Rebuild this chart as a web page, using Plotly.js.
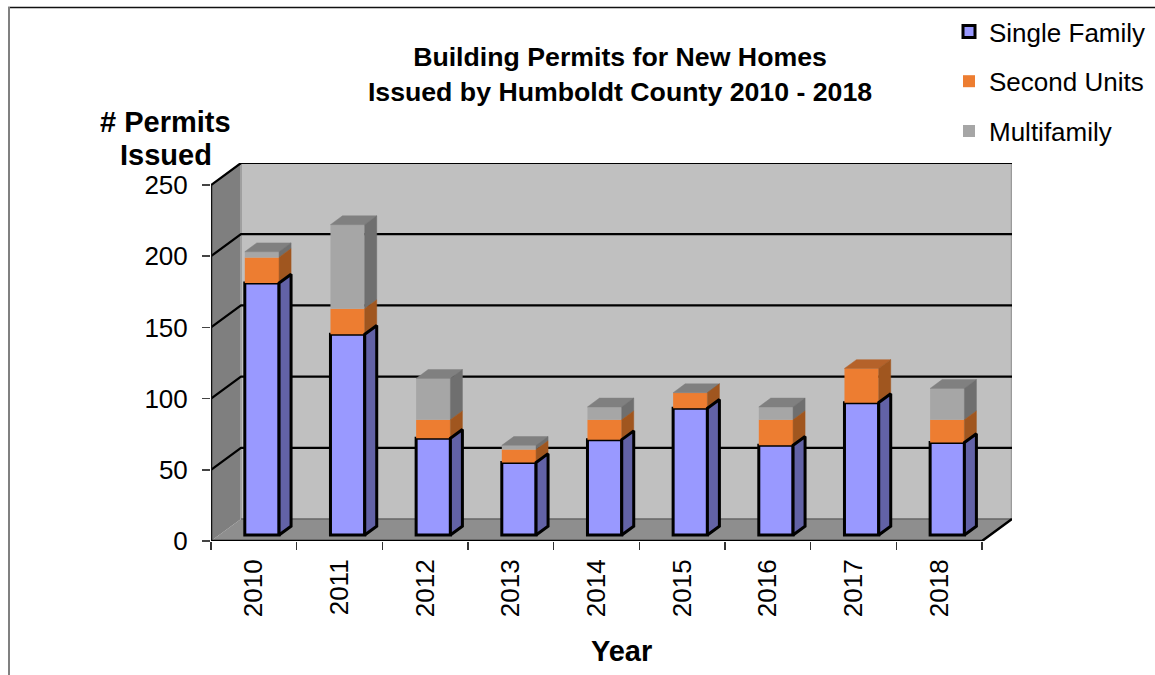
<!DOCTYPE html>
<html>
<head>
<meta charset="utf-8">
<script src="https://cdn.plot.ly/plotly-3.0.1.min.js"></script>
<style>html,body{margin:0;padding:0;background:#fff}#chart{width:1155px;height:675px}</style>
</head>
<body>
<div id="chart"></div>
<script>
const years = ['2010','2011','2012','2013','2014','2015','2016','2017','2018'];
const singleFamily = [177,141,68,51,67,89,63,93,65];
const secondUnits  = [18,18,13,9,14,11,18,24,16];
const multifamily  = [4,59,29,3,9,0,9,null,22];
const yTicks = [0,50,100,150,200,250];

const W=1155,H=675, L=211, R=1012, B=541, T=163;
const catPx=(982-211)/9, valPx=(541-185)/250;
const depthX=30/catPx, depthY=22/valPx;
const xMax=-0.5+(R-L)/catPx, yMax=(B-T)/valPx;
const barW=0.40, barD0=0.27, barD1=0.67;
const P=(c,v,d)=>[c+d*depthX, v+d*depthY];
const path=pts=>'M'+pts.map(p=>p[0]+','+p[1]).join('L')+'Z';
const pxX=p=>(p-L)/(R-L), pxY=p=>(B-p)/(B-T);
const idx=years.map((_,i)=>i);

const series=[
 {name:'Single Family',vals:singleFamily,front:'#9999ff',side:'#6262a6',top:'#7a7ac0',lw:3},
 {name:'Second Units',vals:secondUnits,front:'#ed7d31',side:'#a0561f',top:'#b5622a',lw:0},
 {name:'Multifamily',vals:multifamily,front:'#a6a6a6',side:'#6f6f6f',top:'#808080',lw:0}
];
let cum=years.map(()=>0);
series.forEach(s=>{s.base=cum.slice(); cum=cum.map((c,i)=>c+(s.vals[i]||0));});

const shiftV=barD0*depthY, shiftC=barD0*depthX;
const traces=[];
series.forEach(s=>{
  traces.push({type:'bar',name:s.name,x:idx.map(i=>i+shiftC),y:s.vals.map(v=>v||0),
    base:s.base.map(b=>b+shiftV),width:barW,legendgroup:s.name,
    marker:{color:s.front,line:{color:'#000',width:s.lw}},hoverinfo:'name+y'});
});
function polys(list){const x=[],y=[];list.forEach(pg=>{pg.concat([pg[0]]).forEach(p=>{x.push(p[0]);y.push(p[1]);});x.push(null);y.push(null);});return {x,y};}
function addFace(list,color,lw){
  if(!list.length)return;
  const g=polys(list);
  traces.push({type:'scatter',mode:'lines',x:g.x,y:g.y,fill:'toself',fillcolor:color,
    line:{color:lw?'#000':color,width:lw||0.5},showlegend:false,hoverinfo:'skip'});
}
const sidePoly=(i,a,b)=>{const r=i+barW/2;return [P(r,a,barD0),P(r,a,barD1),P(r,b,barD1),P(r,b,barD0)];};
const topPoly=(i,v)=>{const l=i-barW/2,r=i+barW/2;return [P(l,v,barD0),P(r,v,barD0),P(r,v,barD1),P(l,v,barD1)];};
[2,1,0].forEach(k=>{
  const s=series[k];
  const sides=[],tops=[];
  idx.forEach(i=>{
    const v=s.vals[i];
    if(v===null)return;
    sides.push(sidePoly(i,s.base[i],s.base[i]+v));
    const above=series.slice(k+1).some(o=>o.vals[i]!==null);
    if(!above)tops.push(topPoly(i,s.base[i]+v));
  });
  addFace(tops,s.top,0);
  addFace(sides,s.side,s.lw);
});

const lo=-0.5, hi=8.5;
const shapes=[];
function sh(d,fill,col,w,layer){shapes.push({type:'path',xref:'x',yref:'y',path:d,fillcolor:fill||'rgba(0,0,0,0)',line:{color:col||'rgba(0,0,0,0)',width:w||0},layer:layer||'below'});}
// back wall, floor, left wall
sh(path([P(lo,0,1),P(hi,0,1),P(hi,250,1),P(lo,250,1)]),'#c0c0c0');
sh(path([P(lo,0,0),P(hi,0,0),P(hi,0,1),P(lo,0,1)]),'#8e8e8e');
sh(path([P(lo,0,0),P(lo,0,1),P(lo,250,1),P(lo,250,0)]),'#7f7f7f');
sh('M'+P(lo,0,1).join(',')+'L'+P(lo,250,1).join(','),null,'#a0a0a0',2);
sh('M'+P(hi,0,1).join(',')+'L'+P(hi,250,1).join(','),null,'#9a9a9a',2.5);
sh('M'+P(lo,0,1).join(',')+'L'+P(hi,0,1).join(','),null,'#666',1.5);
yTicks.filter(t=>t>0).forEach(t=>{
  sh('M'+P(lo,t,0).join(',')+'L'+P(lo,t,1).join(',')+'L'+P(hi,t,1).join(','),null,'#000',2.2);
});
sh('M'+P(lo,0,0).join(',')+'L'+P(lo,250,0).join(','),null,'#111',2.5);
sh('M'+P(lo,0,0).join(',')+'L'+P(hi,0,0).join(',')+'L'+P(hi,0,1).join(','),null,'#000',2.5);
// outer frame
shapes.push({type:'line',xref:'paper',yref:'paper',x0:pxX(8),x1:pxX(W),y0:pxY(7.5),y1:pxY(7.5),line:{color:'#111',width:1.5}});
shapes.push({type:'line',xref:'paper',yref:'paper',x0:pxX(9),x1:pxX(9),y0:pxY(7),y1:pxY(H),line:{color:'#808080',width:2}});

const F='"Liberation Sans", Arial, sans-serif';
const layout={
  width:W,height:H,showlegend:true,barmode:'overlay',
  paper_bgcolor:'#fff',plot_bgcolor:'rgba(0,0,0,0)',
  margin:{l:L,r:W-R,t:T,b:H-B,autoexpand:false},
  font:{family:F,color:'#000'},
  title:{text:'<b>Building Permits for New Homes<br>Issued by Humboldt County 2010 - 2018</b>',
    x:620/W,xanchor:'center',xref:'container',yref:'container',y:1-66/H,yanchor:'middle',font:{family:F,size:26.7,color:'#000'}},
  xaxis:{type:'linear',range:[lo,xMax],showgrid:false,zeroline:false,showline:false,
    tickmode:'array',tickvals:idx,ticktext:years,tickangle:-90,ticks:'outside',ticklen:5,tickcolor:'rgba(0,0,0,0)',
    tickfont:{family:F,size:26,color:'#000'},ticklabelstandoff:2,
    minor:{tickmode:'array',tickvals:[-0.5,0.5,1.5,2.5,3.5,4.5,5.5,6.5,7.5,8.5],ticks:'outside',ticklen:8,tickcolor:'#333',tickwidth:1.5,showgrid:false}},
  yaxis:{type:'linear',range:[0,yMax],showgrid:false,zeroline:false,showline:false,
    tickmode:'array',tickvals:yTicks,ticks:'outside',ticklen:8,tickcolor:'#444',tickwidth:1.5,
    tickfont:{family:F,size:26,color:'#000'},ticklabelstandoff:9},
  legend:{x:pxX(949),y:pxY(8),xanchor:'left',yanchor:'top',traceorder:'grouped',tracegroupgap:13,
    font:{family:F,size:26,color:'#000'},bgcolor:'rgba(0,0,0,0)',borderwidth:0},
  annotations:[
    {xref:'paper',yref:'paper',x:pxX(165.5),y:pxY(122),xanchor:'center',yanchor:'middle',showarrow:false,
     text:'<b># Permits</b>',font:{family:F,size:29,color:'#000'}},
    {xref:'paper',yref:'paper',x:pxX(165.5),y:pxY(155),xanchor:'center',yanchor:'middle',showarrow:false,
     text:'<b>Issued</b>',font:{family:F,size:29,color:'#000'}},
    {xref:'paper',yref:'paper',x:pxX(621),y:pxY(651),xanchor:'center',yanchor:'middle',showarrow:false,
     text:'<b>Year</b>',font:{family:F,size:29,color:'#000'}}
  ],
  shapes:shapes
};
Plotly.newPlot('chart',traces,layout,{displayModeBar:false,staticPlot:true,responsive:false});
</script>
</body>
</html>
